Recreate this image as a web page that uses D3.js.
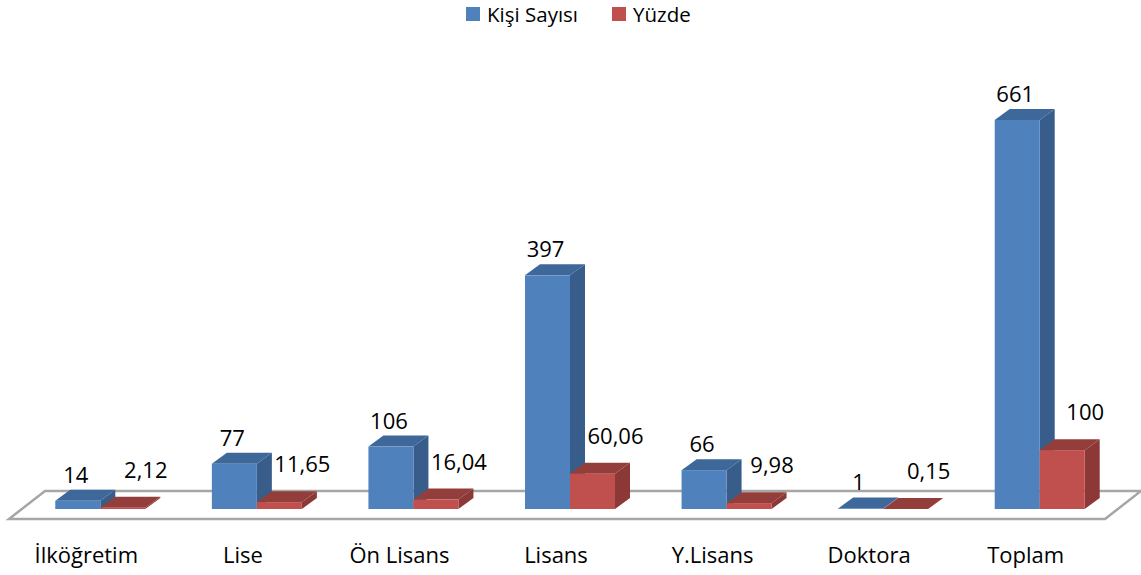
<!DOCTYPE html>
<html>
<head>
<meta charset="utf-8">
<script src="https://cdn.jsdelivr.net/npm/d3@7"></script>
<style>
  body { margin: 0; background: #fff; }
  text { font-family: "Open Sans", "Noto Sans", sans-serif; fill: #000; }
</style>
</head>
<body>
<script>
// chart data
var categories = ["İlköğretim", "Lise", "Ön Lisans", "Lisans", "Y.Lisans", "Doktora", "Toplam"];
var kisiSayisi = [14, 77, 106, 397, 66, 1, 661];
var yuzde = [2.12, 11.65, 16.04, 60.06, 9.98, 0.15, 100];
var seriesNames = ["Kişi Sayısı", "Yüzde"];

var width = 1141, height = 575;

var svg = d3.select("body").append("svg")
  .attr("width", width)
  .attr("height", height);

// x: one band per category, bars side by side around band center
var x = d3.scaleBand().domain(categories).range([22, 1118]);
var y = d3.scaleLinear().domain([0, 661]).range([509, 120]);

var barW = 45, dx = 15, dy = -11;   // oblique depth of bars
var fdx = 36, fdy = -28;            // floor depth
var fs = 22;

var colors = [
  { front: "#4f81bd", side: "#385d8a", top: "#3e679a" },
  { front: "#c0504d", side: "#8c3836", top: "#933e3b" }
];

// floor
var floorFront = 519;
svg.append("path")
  .attr("d", "M9," + floorFront + " L1105," + floorFront +
    " L" + (1105 + fdx) + "," + (floorFront + fdy) +
    " L" + (9 + fdx) + "," + (floorFront + fdy) + " Z")
  .attr("fill", "#fff")
  .attr("stroke", "#a6a6a6")
  .attr("stroke-width", 2.5);

function drawBar(x0, v, c) {
  var base = y(0), top = y(v);
  var g = svg.append("g");
  // side face
  g.append("path")
    .attr("d", "M" + (x0 + barW) + "," + base + " L" + (x0 + barW + dx) + "," + (base + dy) +
      " L" + (x0 + barW + dx) + "," + (top + dy) + " L" + (x0 + barW) + "," + top + " Z")
    .attr("fill", c.side);
  // top face
  g.append("path")
    .attr("d", "M" + x0 + "," + top + " L" + (x0 + dx) + "," + (top + dy) +
      " L" + (x0 + barW + dx) + "," + (top + dy) + " L" + (x0 + barW) + "," + top + " Z")
    .attr("fill", c.top);
  // front face
  g.append("rect")
    .attr("x", x0).attr("y", top)
    .attr("width", barW).attr("height", base - top)
    .attr("fill", c.front);
}

var fmt = function(v) { return String(v).replace(".", ","); };

categories.forEach(function(cat, i) {
  var cx = x(cat) + x.bandwidth() / 2;
  drawBar(cx - barW, kisiSayisi[i], colors[0]);
  drawBar(cx, yuzde[i], colors[1]);

  svg.append("text")
    .attr("x", cx - barW / 2 - 2)
    .attr("y", y(kisiSayisi[i]) + dy - 7)
    .attr("text-anchor", "middle")
    .attr("font-size", fs)
    .text(fmt(kisiSayisi[i]));

  svg.append("text")
    .attr("x", cx + barW / 2 + 23)
    .attr("y", y(yuzde[i]) + dy - 19)
    .attr("text-anchor", "middle")
    .attr("font-size", fs)
    .text(fmt(yuzde[i]));

  // category label
  svg.append("text")
    .attr("x", cx - 14)
    .attr("y", 563)
    .attr("text-anchor", "middle")
    .attr("font-size", fs)
    .text(cat);
});

// legend
var legend = svg.append("g");
var lx = [466, 612];
seriesNames.forEach(function(name, i) {
  legend.append("rect")
    .attr("x", lx[i]).attr("y", 7)
    .attr("width", 14).attr("height", 14)
    .attr("fill", colors[i].front);
  legend.append("text")
    .attr("x", lx[i] + 21).attr("y", 22)
    .attr("font-size", 20.5)
    .text(name);
});
</script>
</body>
</html>
